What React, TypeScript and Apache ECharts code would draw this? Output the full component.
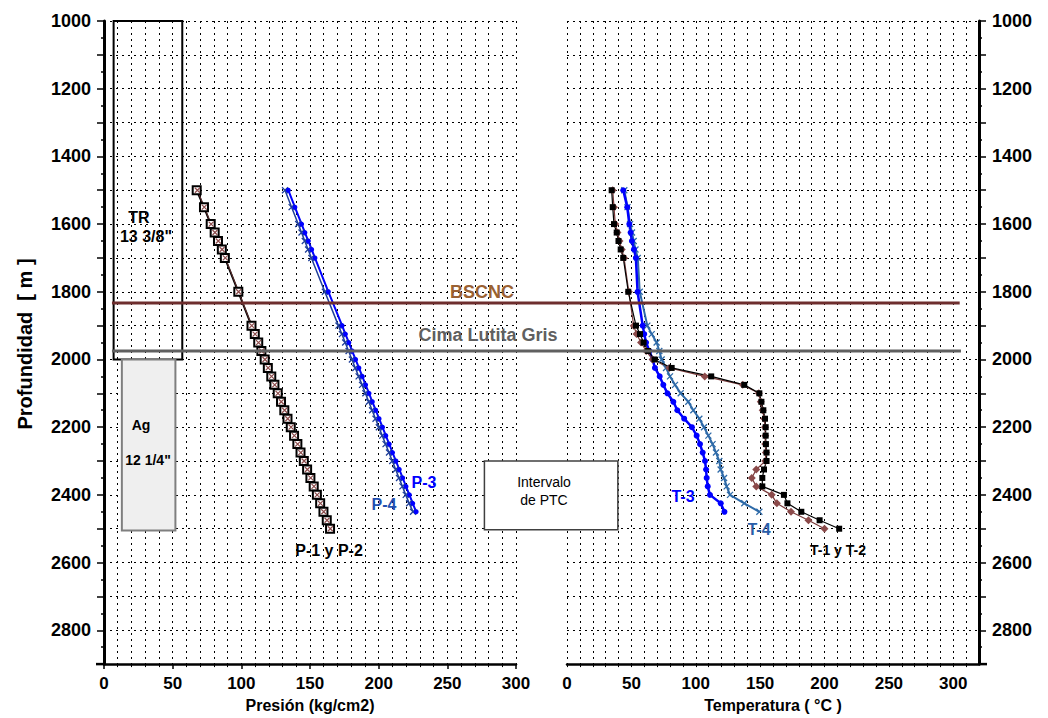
import React, { useEffect, useRef } from "react";
import * as echarts from "echarts";

// ---- data ----
const depthsLong = [1500, 1550, 1600, 1625, 1650, 1675, 1700, 1800, 1900, 1925, 1950, 1975, 2000, 2025, 2050, 2075, 2100, 2125, 2150, 2175, 2200, 2225, 2250, 2275, 2300, 2325, 2350, 2375, 2400, 2425, 2450, 2475, 2500];
const depthsShort = [1500, 1550, 1600, 1625, 1650, 1675, 1700, 1800, 1900, 1925, 1950, 1975, 2000, 2025, 2050, 2075, 2100, 2125, 2150, 2175, 2200, 2225, 2250, 2275, 2300, 2325, 2350, 2375, 2400, 2425, 2450];

const presP1 = [67.5, 72.8, 77.7, 80.6, 83.0, 85.8, 88.0, 97.8, 107.4, 109.8, 112.3, 114.6, 117.0, 119.3, 121.8, 124.1, 126.5, 128.9, 131.3, 133.6, 136.0, 138.4, 140.8, 143.1, 145.5, 147.9, 150.3, 152.7, 155.0, 157.4, 159.8, 162.2, 164.6];
const presP2 = [68.0, 73.0, 78.0, 80.8, 83.2, 86.0, 88.3, 98.0, 107.6, 110.0, 112.5, 114.8, 117.2, 119.5, 122.0, 124.3, 126.7, 129.1, 131.5, 133.8, 136.2, 138.6, 141.0, 143.3, 145.7, 148.1, 150.5, 152.9, 155.2, 157.6, 160.0, 162.4, 164.8];
const presP3 = [134.2, 139.0, 143.9, 146.3, 148.8, 151.2, 153.6, 163.4, 173.4, 175.8, 178.3, 180.7, 183.2, 185.6, 188.1, 190.5, 193.0, 195.4, 197.9, 200.3, 202.8, 205.2, 207.7, 210.1, 212.6, 215.0, 217.5, 219.9, 222.4, 224.8, 227.3];
const presP4 = [131.8, 136.6, 141.4, 143.8, 146.2, 148.6, 151.0, 160.8, 170.7, 173.2, 175.6, 178.1, 180.5, 183.0, 185.4, 187.9, 190.3, 192.8, 195.2, 197.7, 200.1, 202.6, 205.0, 207.5, 209.9, 212.4, 214.8, 217.3, 219.7, 222.2, 225.0];

const tempT1 = [34.7, 35.5, 36.5, 38.6, 40.0, 41.7, 43.7, 47.6, 53.6, 56.7, 59.5, 63.0, 68.0, 81.3, 112.0, 137.7, 149.4, 151.0, 152.5, 153.8, 154.3, 154.3, 154.5, 155.0, 155.0, 153.0, 151.7, 151.7, 168.5, 171.2, 182.0, 196.2, 211.4];
const tempT2 = [35.5, 36.5, 37.5, 39.2, 40.8, 42.5, 44.3, 48.0, 51.8, 54.0, 57.5, 61.5, 66.5, 79.5, 107.0, 136.5, 149.0, 150.5, 152.0, 153.2, 153.8, 154.0, 154.0, 154.5, 154.0, 147.0, 143.5, 147.0, 159.0, 163.0, 174.0, 187.5, 200.0];
const tempT3 = [43.7, 46.8, 48.4, 49.4, 50.4, 52.0, 53.5, 54.8, 58.8, 60.0, 61.4, 64.0, 66.5, 68.3, 72.0, 74.8, 78.0, 82.6, 85.7, 91.0, 97.0, 100.7, 103.3, 105.4, 107.2, 108.0, 108.5, 109.3, 111.0, 119.4, 122.3];
const tempT4 = [44.5, 47.0, 49.0, 50.5, 51.8, 53.2, 55.0, 56.5, 62.4, 65.8, 69.6, 71.7, 73.5, 76.9, 80.0, 83.9, 88.3, 94.2, 98.1, 102.8, 106.4, 109.8, 113.1, 115.7, 118.3, 119.3, 122.0, 124.0, 126.6, 137.7, 149.4];

// annotation values (data units)
const depthBSCNC = 1833;
const depthCima = 1975;
const casingTR = [7, 57, 1000, 2000];
const casingAg = [13, 52, 2000, 2505];
const ptcBox = [277, 39.5, 2300, 2503]; // left in P units, right in T units

const FONT = '"Liberation Sans", Arial, Helvetica, sans-serif';
const X_SYMBOL = "path://M0,0L10,10M10,0L0,10";

const pair = (xs: number[], ds: number[]) => ds.map((d, i) => [xs[i], d]);

export default function App() {
  const ref = useRef<HTMLDivElement>(null);
  useEffect(() => {
    if (!ref.current) return;
    const chart = echarts.init(ref.current, null, { renderer: "svg" });
    const dotted = { type: [2, 4] as any, color: "#000", width: 1 };
    const yAxisCommon = (gridIndex: number, position: string) => ({
      gridIndex,
      type: "value",
      inverse: true,
      min: 1000,
      max: 2900,
      interval: 100,
      position,
      axisLine: { show: true, onZero: false, lineStyle: { color: "#000", width: 3 } },
      axisTick: { show: true, length: 7, lineStyle: { color: "#000", width: 1.5 } },
      minorTick: { show: true, splitNumber: 2, length: 3, lineStyle: { color: "#000", width: 1.5 } },
      splitLine: { show: true, lineStyle: dotted },
      minorSplitLine: { show: false },
      axisLabel: {
        color: "#000",
        fontWeight: "bold",
        fontSize: 18,
        fontFamily: FONT,
        margin: 13,
        formatter: (v: number) => (v % 200 === 0 ? String(v) : ""),
      },
    });
    const option: any = {
      animation: false,
      backgroundColor: "#fff",
      grid: [
        { left: 104, right: 532, top: 21, bottom: 51, containLabel: false },
        { left: 567, right: 69, top: 21, bottom: 51, containLabel: false },
      ],
      xAxis: [
        {
          gridIndex: 0,
          type: "value",
          min: 0,
          max: 300,
          interval: 50,
          position: "bottom",
          axisLine: { show: true, onZero: false, lineStyle: { color: "#000", width: 2.5 } },
          axisTick: { show: true, length: 5, lineStyle: { color: "#000", width: 1.5 } },
          minorTick: { show: true, splitNumber: 5, length: 3, lineStyle: { color: "#000", width: 1 } },
          splitLine: { show: true, lineStyle: dotted },
          minorSplitLine: { show: true, lineStyle: dotted },
          axisLabel: { color: "#000", fontWeight: "bold", fontSize: 17, fontFamily: FONT, margin: 11 },
          name: "Presión (kg/cm2)",
          nameLocation: "middle",
          nameGap: 32,
          nameTextStyle: { color: "#000", fontWeight: "bold", fontSize: 16, fontFamily: FONT },
        },
        {
          gridIndex: 1,
          type: "value",
          min: 0,
          max: 320,
          interval: 10,
          position: "bottom",
          axisLine: { show: true, onZero: false, lineStyle: { color: "#000", width: 2.5 } },
          axisTick: { show: true, length: 3, lineStyle: { color: "#000", width: 1 } },
          splitLine: { show: true, lineStyle: dotted },
          axisLabel: {
            color: "#000",
            fontWeight: "bold",
            fontSize: 17,
            fontFamily: FONT,
            margin: 11,
            showMaxLabel: false,
            formatter: (v: number) => (v % 50 === 0 && v <= 300 ? String(v) : ""),
          },
          name: "Temperatura ( °C )",
          nameLocation: "middle",
          nameGap: 32,
          nameTextStyle: { color: "#000", fontWeight: "bold", fontSize: 16, fontFamily: FONT },
        },
      ],
      yAxis: [yAxisCommon(0, "left"), yAxisCommon(1, "right")],
      series: [
        {
          name: "P-4",
          type: "line",
          xAxisIndex: 0,
          yAxisIndex: 0,
          data: pair(presP4, depthsShort),
          symbol: X_SYMBOL,
          symbolSize: 6,
          lineStyle: { color: "#1f3f99", width: 1.5 },
          itemStyle: { color: "transparent", borderColor: "#1f3f99", borderWidth: 1.3 },
        },
        {
          name: "P-3",
          type: "line",
          xAxisIndex: 0,
          yAxisIndex: 0,
          data: pair(presP3, depthsShort),
          symbol: "circle",
          symbolSize: 5,
          lineStyle: { color: "#0000ff", width: 2 },
          itemStyle: { color: "#0000ff" },
        },
        {
          name: "P-1",
          type: "line",
          xAxisIndex: 0,
          yAxisIndex: 0,
          data: pair(presP1, depthsLong),
          symbol: "emptyRect",
          symbolSize: 8,
          lineStyle: { color: "#000", width: 2 },
          itemStyle: { color: "#000", borderColor: "#000", borderWidth: 1.5 },
        },
        {
          name: "P-2",
          type: "line",
          xAxisIndex: 0,
          yAxisIndex: 0,
          data: pair(presP2, depthsLong),
          symbol: X_SYMBOL,
          symbolSize: 5,
          lineStyle: { color: "#7a3a3a", width: 0.8 },
          itemStyle: { color: "transparent", borderColor: "#8b4a4a", borderWidth: 1.2 },
        },
        {
          name: "T-4",
          type: "line",
          xAxisIndex: 1,
          yAxisIndex: 1,
          data: pair(tempT4, depthsShort),
          symbol: X_SYMBOL,
          symbolSize: 6,
          lineStyle: { color: "#2e6aa8", width: 2 },
          itemStyle: { color: "transparent", borderColor: "#2e6aa8", borderWidth: 1.3 },
        },
        {
          name: "T-3",
          type: "line",
          xAxisIndex: 1,
          yAxisIndex: 1,
          data: pair(tempT3, depthsShort),
          symbol: "circle",
          symbolSize: 6,
          lineStyle: { color: "#0000ff", width: 2.5 },
          itemStyle: { color: "#0000ff" },
        },
        {
          name: "T-2",
          type: "line",
          xAxisIndex: 1,
          yAxisIndex: 1,
          data: pair(tempT2, depthsLong),
          symbol: "diamond",
          symbolSize: 8,
          lineStyle: { color: "#7a3a3a", width: 1.2 },
          itemStyle: { color: "#8b4a4a" },
        },
        {
          name: "T-1",
          type: "line",
          xAxisIndex: 1,
          yAxisIndex: 1,
          data: pair(tempT1, depthsLong),
          symbol: "rect",
          symbolSize: 6,
          lineStyle: { color: "#000", width: 1.2 },
          itemStyle: { color: "#000" },
        },
      ],
    };
    chart.setOption(option);

    const p0 = (x: number, y: number) => chart.convertToPixel({ gridIndex: 0 } as any, [x, y]) as number[];
    const p1 = (x: number, y: number) => chart.convertToPixel({ gridIndex: 1 } as any, [x, y]) as number[];

    const trA = p0(casingTR[0], casingTR[2]);
    const trB = p0(casingTR[1], casingTR[3]);
    const agA = p0(casingAg[0], casingAg[2]);
    const agB = p0(casingAg[1], casingAg[3]);
    const ptcA = p0(ptcBox[0], ptcBox[2]);
    const ptcB = p1(ptcBox[1], ptcBox[3]);
    const bsL = p0(5.8, depthBSCNC);
    const bsR = p1(305, depthBSCNC);
    const ciL = p0(5.8, depthCima);
    const ciR = p1(306, depthCima);
    const axL = p0(0, 2900);
    const axR = p1(320, 2900);

    const txt = (text: string, x: number, y: number, size: number, color: string, weight = "bold") => ({
      type: "text",
      x,
      y,
      z: 20,
      style: {
        text,
        fill: color,
        font: `${weight} ${size}px ${FONT}`,
        align: "center",
        verticalAlign: "middle",
      },
    });

    chart.setOption({
      graphic: [
        {
          type: "rect",
          z: 5,
          shape: { x: trA[0], y: trA[1], width: trB[0] - trA[0], height: trB[1] - trA[1] },
          style: { fill: "none", stroke: "#000", lineWidth: 2 },
        },
        {
          type: "rect",
          z: 5,
          shape: { x: agA[0], y: agA[1], width: agB[0] - agA[0], height: agB[1] - agA[1] },
          style: { fill: "#efefef", stroke: "#7f7f7f", lineWidth: 2 },
        },
        {
          type: "line",
          z: 6,
          shape: { x1: bsL[0], y1: bsL[1], x2: bsR[0], y2: bsR[1] },
          style: { stroke: "#6e2e2e", lineWidth: 3 },
        },
        {
          type: "line",
          z: 6,
          shape: { x1: ciL[0], y1: ciL[1], x2: ciR[0], y2: ciR[1] },
          style: { stroke: "#606060", lineWidth: 3 },
        },
        {
          type: "line",
          z: 6,
          shape: { x1: axL[0] - 8, y1: axL[1], x2: axL[0], y2: axL[1] },
          style: { stroke: "#000", lineWidth: 2.5 },
        },
        {
          type: "line",
          z: 6,
          shape: { x1: axR[0], y1: axR[1], x2: axR[0] + 8, y2: axR[1] },
          style: { stroke: "#000", lineWidth: 2.5 },
        },
        {
          type: "rect",
          z: 5,
          shape: { x: ptcA[0], y: ptcA[1], width: ptcB[0] - ptcA[0], height: ptcB[1] - ptcA[1] },
          style: { fill: "#fff", stroke: "#404040", lineWidth: 1.5 },
        },
        txt("Intervalo", 544, 482, 14, "#000", "normal"),
        txt("de PTC", 544, 500, 14, "#000", "normal"),
        txt("TR", 139, 217, 16, "#000"),
        txt('13 3/8"', 146, 236, 16, "#000"),
        txt("Ag", 141, 425, 14, "#000"),
        txt('12 1/4"', 148, 460, 14, "#000"),
        txt("BSCNC", 482, 292, 18, "#9a6132"),
        txt("Cima Lutita Gris", 488, 335, 18, "#606060"),
        txt("P-3", 424, 482, 16, "#0000ff"),
        txt("P-4", 384, 504, 16, "#1f4fb0"),
        txt("P-1 y P-2", 329, 550, 16, "#000"),
        txt("T-3", 683, 496, 16, "#0000ff"),
        txt("T-4", 759, 529, 16, "#2a5ea8"),
        txt("T-1 y T-2", 838, 550, 14, "#000"),
        {
          type: "text",
          x: 25,
          y: 344,
          rotation: Math.PI / 2,
          z: 20,
          style: {
            text: "Profundidad  [ m ]",
            fill: "#000",
            font: `bold 20px ${FONT}`,
            align: "center",
            verticalAlign: "middle",
          },
        },
      ],
    });

    return () => chart.dispose();
  }, []);
  return (
    <div
      ref={ref}
      style={{ position: "absolute", left: 0, top: 0, width: 1048, height: 718, background: "#fff" }}
    />
  );
}
